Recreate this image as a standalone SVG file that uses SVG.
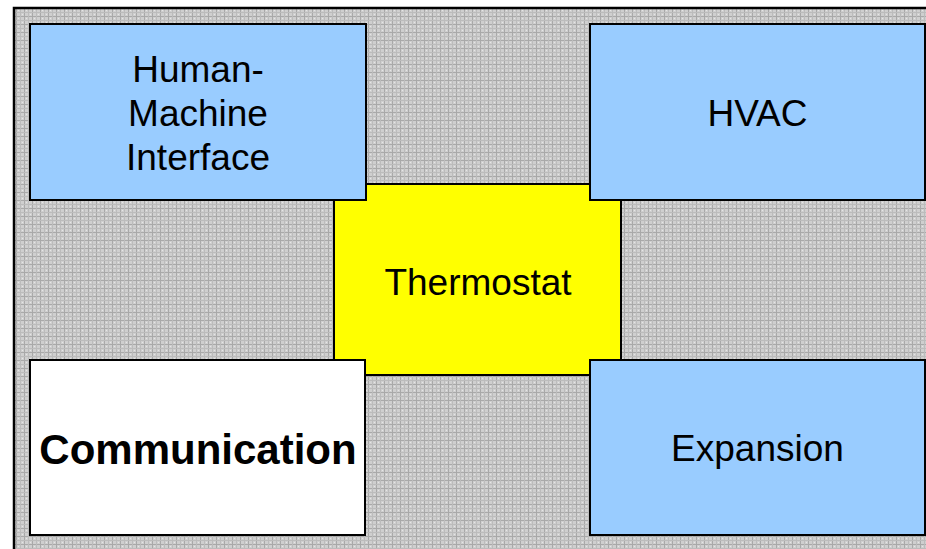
<svg xmlns="http://www.w3.org/2000/svg" width="926" height="549" viewBox="0 0 926 549">
  <defs>
    <pattern id="grid" x="0" y="0" width="8" height="8" patternUnits="userSpaceOnUse">
      <rect width="8" height="8" fill="#cfcfcf"/>
      <rect x="0" y="0" width="1" height="8" fill="#a9a9a9"/>
      <rect x="0" y="0" width="8" height="1" fill="#a9a9a9"/>
      <rect x="4" y="0" width="1" height="8" fill="#bcbcbc"/>
      <rect x="0" y="4" width="8" height="1" fill="#bcbcbc"/>
      <rect x="2" y="2" width="1" height="1" fill="#e6e6e6"/>
      <rect x="6" y="6" width="1" height="1" fill="#e6e6e6"/>
    </pattern>
  </defs>
  <style>
    .box { stroke: #000; stroke-width: 2; }
    .blue { fill: #99ccff; }
    .yellow { fill: #ffff00; }
    .white { fill: #ffffff; }
    .lbl { font-family: "Liberation Sans", Arial, sans-serif; font-size: 37px; fill: #000; text-anchor: middle; }
    .bold { font-weight: bold; font-size: 42px; }
  </style>
  <rect x="0" y="0" width="926" height="549" fill="#ffffff"/>
  <rect x="14" y="8" width="920" height="550" fill="url(#grid)" stroke="#000" stroke-width="2.5"/>
  <g id="connectors"/>
  <g id="thermostat">
    <rect class="box yellow" x="334" y="184" width="287" height="191"/>
    <text class="lbl" x="478" y="295">Thermostat</text>
  </g>
  <g id="hmi">
    <rect class="box blue" x="30" y="24" width="336" height="176"/>
    <text class="lbl" x="198" y="82">Human-</text>
    <text class="lbl" x="198" y="126">Machine</text>
    <text class="lbl" x="198" y="170">Interface</text>
  </g>
  <g id="hvac">
    <rect class="box blue" x="590" y="24" width="335" height="176"/>
    <text class="lbl" x="757.5" y="126">HVAC</text>
  </g>
  <g id="communication">
    <rect class="box white" x="30" y="360" width="335" height="175"/>
    <text class="lbl bold" x="198" y="464">Communication</text>
  </g>
  <g id="expansion">
    <rect class="box blue" x="590" y="360" width="335" height="175"/>
    <text class="lbl" x="757.5" y="461">Expansion</text>
  </g>
</svg>
